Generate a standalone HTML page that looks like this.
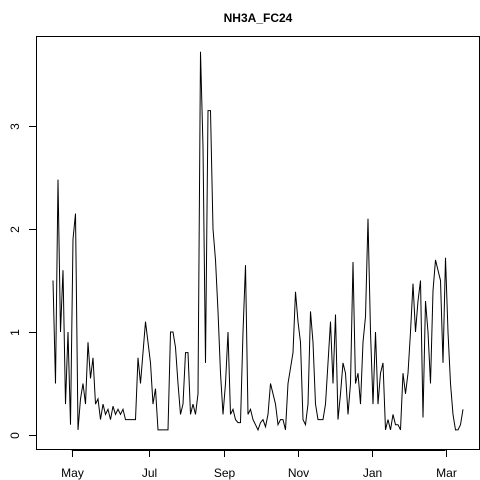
<!DOCTYPE html>
<html><head><meta charset="utf-8"><style>
html,body{margin:0;padding:0;background:#fff}
svg{display:block;font-family:"Liberation Sans",Arial,sans-serif}
</style></head><body>
<svg id="chart" width="480" height="480" viewBox="0 0 480 480">
<text x="258" y="22" text-anchor="middle" font-size="12" font-weight="bold">NH3A_FC24</text>
<rect x="36.5" y="36.5" width="443" height="413" fill="none" stroke="#000" stroke-width="1"/>
<g id="axes"></g>
<polyline id="series" fill="none" stroke="#000" stroke-width="1"/>
</svg>
<script>
const values = [
1.5,0.5,2.48,1.0,1.6,0.3,1.0,0.1,1.9,2.15,0.05,0.35,0.5,0.3,0.9,0.55,0.75,0.3,0.35,0.15,0.3,0.2,0.25,0.15,0.28,0.2,0.25,
0.2,0.25,0.15,0.15,0.15,0.15,0.15,0.75,0.5,0.8,1.1,0.9,0.7,0.3,0.45,0.05,0.05,0.05,0.05,0.05,1.0,1.0,0.85,0.5,0.2,0.3,0.8,
0.8,0.2,0.3,0.2,0.4,3.72,2.8,0.7,3.15,3.15,2.0,1.7,1.2,0.6,0.2,0.5,1.0,0.2,0.25,0.15,0.12,0.12,1.0,1.65,0.2,0.25,0.15,0.1,0.05,
0.12,0.15,0.08,0.2,0.5,0.4,0.3,0.1,0.15,0.15,0.05,0.5,0.65,0.8,1.39,1.1,0.9,0.15,0.1,0.3,1.2,0.9,0.3,0.15,0.15,0.15,0.3,0.7,1.1,
0.5,1.17,0.15,0.4,0.7,0.6,0.2,0.5,1.68,0.5,0.6,0.3,0.9,1.15,2.1,1.0,0.3,1.0,0.3,0.6,0.7,0.05,0.15,0.05,0.2,0.1,0.1,
0.05,0.6,0.4,0.6,1.0,1.47,1.0,1.3,1.5,0.17,1.3,1.0,0.5,1.4,1.7,1.6,1.5,0.7,1.72,1.0,0.5,0.2,0.05,0.05,0.1,0.25
];
const dayStep = 2;
const monthLabels = ["May","Jul","Sep","Nov","Jan","Mar"];
const monthDays = [15,77,137,196,255,314];
const yTicks = [0,1,2,3];

const xs = d => 53 + d*1.25;
const ys = v => 435 - v*103;
const NS = "http://www.w3.org/2000/svg";
const axes = document.getElementById("axes");

document.getElementById("series").setAttribute("points",
  values.map((v,i)=>xs(i*dayStep).toFixed(1)+","+ys(v).toFixed(1)).join(" "));

function line(x1,y1,x2,y2){
  const l=document.createElementNS(NS,"line");
  l.setAttribute("x1",x1);l.setAttribute("y1",y1);l.setAttribute("x2",x2);l.setAttribute("y2",y2);
  l.setAttribute("stroke","#000");
  return l;
}
function text(x,y,s,rot){
  const t=document.createElementNS(NS,"text");
  t.setAttribute("x",x);t.setAttribute("y",y);t.setAttribute("font-size","12");
  t.setAttribute("text-anchor","middle");
  if(rot) t.setAttribute("transform","rotate(-90 "+x+" "+y+")");
  t.textContent=s;return t;
}
// x axis
const xa=line(xs(monthDays[0]),450.5,xs(monthDays[monthDays.length-1]),450.5);


axes.appendChild(xa);
monthDays.forEach((d,i)=>{
  const x=Math.round(xs(d))+0.5;
  const tk=line(x,450,x,457);
  
  
  axes.appendChild(tk);
  const t=text(x,477,monthLabels[i]);
  
  
  axes.appendChild(t);
});
// y axis
const ya=line(36.5,ys(yTicks[0]),36.5,ys(yTicks[yTicks.length-1]));


axes.appendChild(ya);
yTicks.forEach(v=>{
  const y=Math.round(ys(v))+0.5;
  const tk=line(29,y,36,y);
  
  
  axes.appendChild(tk);
  const t=text(19,y,String(v),true);
  
  
  axes.appendChild(t);
});
</script>
</body></html>
